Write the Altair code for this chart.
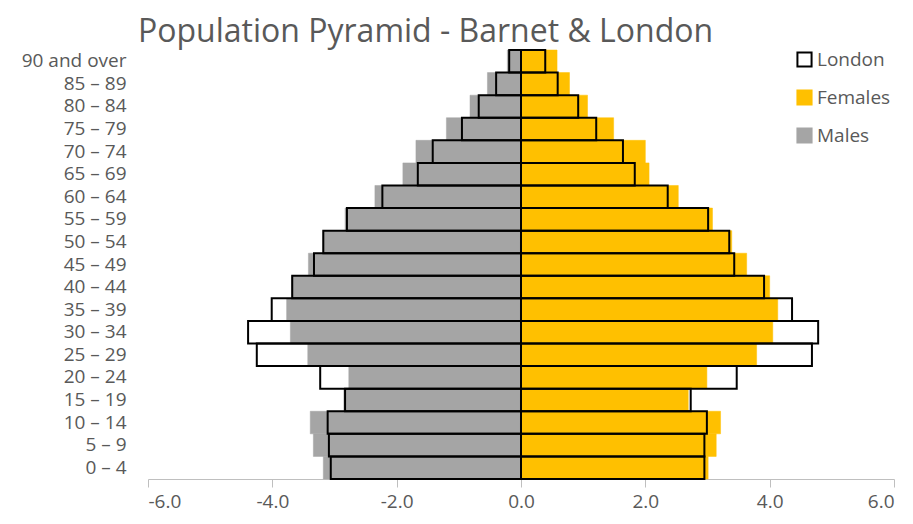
import altair as alt
import pandas as pd

ages = ["90 and over", "85 – 89", "80 – 84", "75 – 79", "70 – 74", "65 – 69", "60 – 64",
        "55 – 59", "50 – 54", "45 – 49", "40 – 44", "35 – 39", "30 – 34", "25 – 29",
        "20 – 24", "15 – 19", "10 – 14", "5 – 9", "0 – 4"]

barnet_males = [0.22, 0.54, 0.82, 1.20, 1.69, 1.90, 2.35, 2.83, 3.19, 3.42, 3.69, 3.77,
                3.71, 3.43, 2.77, 2.85, 3.39, 3.34, 3.18]
barnet_females = [0.58, 0.78, 1.07, 1.49, 2.00, 2.06, 2.53, 3.08, 3.39, 3.63, 4.00, 4.13,
                  4.05, 3.79, 2.99, 2.69, 3.21, 3.14, 3.01]
london_males = [0.19, 0.40, 0.68, 0.95, 1.42, 1.66, 2.23, 2.80, 3.18, 3.33, 3.68, 4.01,
                4.39, 4.25, 3.23, 2.83, 3.11, 3.09, 3.06]
london_females = [0.39, 0.59, 0.92, 1.21, 1.64, 1.83, 2.36, 3.01, 3.35, 3.43, 3.91, 4.36,
                  4.78, 4.68, 3.47, 2.73, 2.99, 2.95, 2.95]

barnet = pd.DataFrame({
    "age": ages + ages,
    "value": [-v for v in barnet_males] + barnet_females,
    "series": ["Males"] * len(ages) + ["Females"] * len(ages),
})
london = pd.DataFrame({
    "age": ages + ages,
    "value": [-v for v in london_males] + london_females,
    "series": ["London"] * (2 * len(ages)),
})

grey_text = "#595959"
x_enc = alt.X("value:Q",
              scale=alt.Scale(domain=[-6, 6], nice=False),
              axis=alt.Axis(values=[-6, -4, -2, 0, 2, 4, 6], title=None, grid=False,
                            labelExpr="(datum.value < 0 ? '-' : '') + format(abs(datum.value), '.1f')",
                            domainColor="#BFBFBF", tickColor="#BFBFBF", tickSize=8,
                            labelFontSize=19, labelColor=grey_text, labelPadding=5,
                            labelFont="Open Sans"))
y_enc = alt.Y("age:N", sort=ages,
              scale=alt.Scale(paddingInner=0, paddingOuter=0),
              axis=alt.Axis(title=None, domain=False, ticks=False, labelFontSize=19,
                            labelColor=grey_text, labelPadding=22, labelFont="Open Sans"))

london_fill = alt.Chart(london).mark_bar(fill="white", strokeWidth=0).encode(
    x=x_enc, x2=alt.datum(0), y=y_enc)

color_scale_fill = alt.Scale(domain=["London", "Females", "Males"],
                             range=["white", "#FFC000", "#A5A5A5"])
color_scale_stroke = alt.Scale(domain=["London", "Females", "Males"],
                               range=["black", "#FFC000", "#A5A5A5"])

legend = alt.Legend(title=None, orient="none", legendX=647, legendY=0,
                    symbolType="square", symbolSize=200,
                    symbolStrokeWidth=2, labelFontSize=19,
                    labelColor=grey_text, labelFont="Open Sans",
                    rowPadding=15, labelOffset=3)

barnet_bars = alt.Chart(barnet).mark_bar(strokeWidth=0.5).encode(
    x=x_enc, x2=alt.datum(0), y=y_enc,
    fill=alt.Fill("series:N", scale=color_scale_fill, legend=legend),
    stroke=alt.Stroke("series:N", scale=color_scale_stroke, legend=legend),
)

london_outline = alt.Chart(london).mark_bar(fillOpacity=0, stroke="black", strokeWidth=2).encode(
    x=x_enc, x2=alt.datum(0), y=y_enc)

chart = alt.layer(london_fill, barnet_bars, london_outline).properties(
    width=746, height=429,
    title=alt.TitleParams("Population Pyramid - Barnet & London", fontSize=32,
                          font="Open Sans", fontWeight="normal", color=grey_text,
                          anchor="start", frame="group", dx=-10, offset=0),
    padding={"left": 13, "top": 8, "right": 0, "bottom": 5},
).configure_view(stroke=None)

chart.save("out.html", embed_options={"renderer": "svg", "actions": False})
